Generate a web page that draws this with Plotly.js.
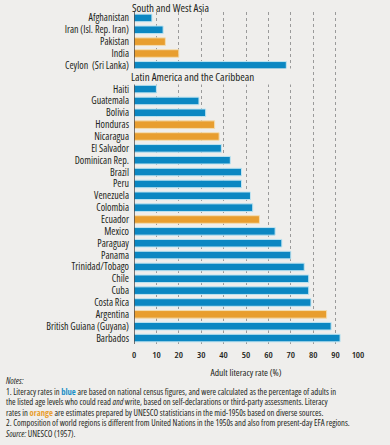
<!DOCTYPE html>
<html><head><meta charset="utf-8">
<script src="https://cdn.plot.ly/plotly-3.0.1.min.js"></script>
<style>html,body{margin:0;padding:0;background:#efeeec;} #chart text{font-stretch:condensed !important;}</style>
</head><body><div id="chart" style="width:390px;height:445px;"></div>
<script>
const regionNames = ["South and West Asia", "Latin America and the Caribbean"];
const asiaCountries = ["Afghanistan","Iran (Isl. Rep. Iran)","Pakistan","India","Ceylon  (Sri Lanka)"];
const asiaRates = [8,13,14,20,68];
const asiaSource = ["census","census","estimate","estimate","census"];
const latamCountries = ["Haiti","Guatemala","Bolivia","Honduras","Nicaragua","El Salvador","Dominican Rep.","Brazil","Peru","Venezuela","Colombia","Ecuador","Mexico","Paraguay","Panama","Trinidad/Tobago","Chile","Cuba","Costa Rica","Argentina","British Guiana (Guyana)","Barbados"];
const latamRates = [10,29,32,36,38,39,43,48,48,52,53,56,63,66,70,76,78,78,79,86,88,92];
const latamSource = ["census","census","census","estimate","estimate","census","census","census","census","census","census","estimate","census","census","census","census","census","census","census","estimate","census","census"];
const xTicks = [0,10,20,30,40,50,60,70,80,90,100];
const xTitle = "Adult literacy rate (%)";
const noteLines = [
  "<i>Notes:</i>",
  "1. Literacy rates in <b><span style='color:#1a8fc6'>blue</span></b> are based on national census figures, and were calculated as the percentage of adults in",
  "the listed age levels who could read <i>and</i> write, based on self-declarations or third-party assessments. Literacy",
  "rates in <b><span style='color:#e89e2f'>orange</span></b> are estimates prepared by UNESCO statisticians in the mid-1950s based on diverse sources.",
  "2. Composition of world regions is different from United Nations in the 1950s and also from present-day EFA regions.",
  "<i>Source:</i> UNESCO (1957)."
];

const colorFor = {census:"#0b87c2", estimate:"#e89e2f"};
const edgeFor = {census:"#bfe4f1", estimate:"#f3dcb0"};

const countries = [], rates = [], sources = [], rows = [];
const headerRows = [];
let r = 0;
const groups = [[asiaCountries, asiaRates, asiaSource],[latamCountries, latamRates, latamSource]];
const groupSpans = [];
groups.forEach((g) => {
  headerRows.push(r); r++;
  const start = r;
  g[0].forEach((c, i) => { countries.push(c); rates.push(g[1][i]); sources.push(g[2][i]); rows.push(r); r++; });
  groupSpans.push([start - 0.5, r - 0.5]);
});
const lastRow = r - 1;

const trace = {
  type: "bar", orientation: "h",
  x: rates, y: rows,
  width: 0.64,
  marker: {color: sources.map(s => colorFor[s]), line: {color: sources.map(s => edgeFor[s]), width: 1}},
  hoverinfo: "x+text", text: countries, textposition: "none"
};

const font = "'Open Sans', sans-serif";
const ink = "#231f20";
const bg = "#efeeec";
const annotations = [];
annotations.push({
  text: regionNames[0], x: 0, xref: "x", y: 1, yref: "paper",
  xanchor: "left", yanchor: "middle", align: "left", xshift: -4, yshift: 5, showarrow: false,
  font: {family: font, size: 11, color: ink, weight: 500}
});
annotations.push({
  text: regionNames[1], x: 0, xref: "x", y: headerRows[1], yref: "y",
  xanchor: "left", yanchor: "middle", align: "left", xshift: -4, yshift: 1, showarrow: false,
  bgcolor: bg, borderpad: 0,
  font: {family: font, size: 11, color: ink, weight: 500}
});
const notesTop = 37;
const notesStep = 10.6;
noteLines.forEach((t, i) => {
  annotations.push({
    text: t, xref: "paper", yref: "paper", x: -130/224, y: 0,
    yshift: -(notesTop + i * notesStep),
    xanchor: "left", yanchor: "middle", align: "left", showarrow: false,
    font: {family: font, size: 8.6, color: ink}
  });
});

const shapes = groupSpans.map(s => ({
  type: "line", xref: "x", yref: "y", x0: 0, x1: 0, y0: s[0], y1: s[1],
  line: {color: ink, width: 1.2}
}));

const layout = {
  width: 390, height: 445,
  margin: {l: 134, r: 32, t: 12, b: 101, autoexpand: false},
  paper_bgcolor: bg, plot_bgcolor: bg,
  showlegend: false,
  xaxis: {
    range: [0, 100], tickvals: xTicks, ticktext: xTicks.map(String),
    showgrid: true, gridcolor: "#9a9a9a", griddash: "dot", gridwidth: 1,
    zeroline: false, showline: false, ticks: "", automargin: false,
    tickfont: {family: font, size: 9.5, color: ink, weight: 600},
    ticklabelstandoff: 3,
    title: {text: xTitle, font: {family: font, size: 9.5, color: ink, weight: 500}, standoff: 9},
    fixedrange: true
  },
  yaxis: {
    range: [lastRow + 0.5, 0.5], tickvals: rows, ticktext: countries,
    showgrid: false, zeroline: false, showline: false, ticks: "", automargin: false,
    tickfont: {family: font, size: 10, color: ink, weight: 500},
    ticklabelstandoff: 4, fixedrange: true
  },
  annotations: annotations,
  shapes: shapes
};
Plotly.newPlot("chart", [trace], layout, {displayModeBar: false, staticPlot: true});
</script></body></html>
